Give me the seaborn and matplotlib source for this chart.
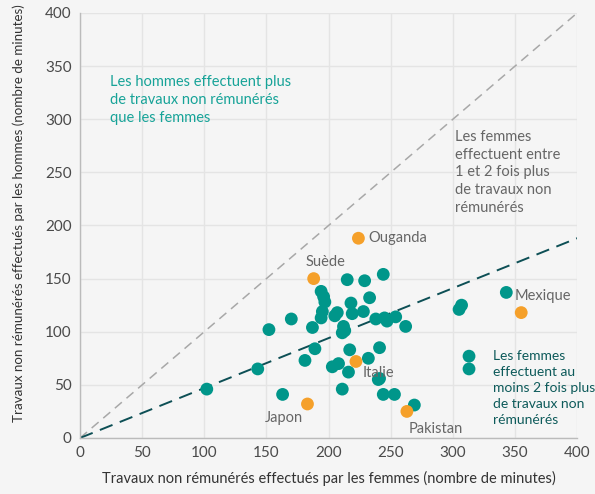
import matplotlib
matplotlib.use("Agg")
import matplotlib.pyplot as plt
import seaborn as sns
import pandas as pd

# Data: unpaid work, women (x) vs men (y), minutes per day
teal_x = [102, 143, 163, 152, 170, 187, 189, 181, 194, 196, 197, 195, 194, 205, 207,
          215, 229, 244, 233, 218, 219, 228, 238, 245, 247, 254, 262, 212, 211, 213,
          217, 241, 203, 208, 232, 216, 211, 240, 241, 244, 253, 269, 343, 307, 305,
          313, 313]
teal_y = [46, 65, 41, 102, 112, 104, 84, 73, 138, 133, 128, 119, 113, 115, 118,
          149, 148, 154, 132, 127, 117, 119, 112, 113, 110, 114, 105, 105, 99, 101,
          83, 85, 67, 70, 75, 62, 46, 55, 56, 41, 41, 31, 137, 125, 121,
          77, 65]

named_countries = ["Ouganda", "Suède", "Mexique", "Italie", "Japon", "Pakistan"]
named_x = [224, 188, 355, 222, 183, 263]
named_y = [188, 150, 118, 72, 32, 25]

line_equal_x = [0, 400]
line_equal_y = [0, 400]
line_double_x = [0, 400]
line_double_y = [0, 188]

teal = "#00968a"
orange = "#f5a02a"
bg = "#f5f5f5"

sns.set_theme(style="whitegrid")
plt.rcParams['font.family'] = ['Lato', 'DejaVu Sans']

fig = plt.figure(figsize=(5.95, 4.94), dpi=100, facecolor=bg)
ax = fig.add_axes([0.1345, 0.1134, 0.8355, 0.8603])
ax.set_facecolor(bg)

others = pd.DataFrame({"x": teal_x, "y": teal_y})
named = pd.DataFrame({"x": named_x, "y": named_y, "pays": named_countries})

sns.lineplot(x=line_equal_x, y=line_equal_y, ax=ax, color="#a8a8a8",
             linestyle=(0, (6, 4)), linewidth=1.1)
sns.lineplot(x=line_double_x, y=line_double_y, ax=ax, color="#0d4f55",
             linestyle=(0, (7, 4)), linewidth=1.4)

sns.scatterplot(data=others, x="x", y="y", ax=ax, color=teal, s=85,
                edgecolor="none", zorder=3)
sns.scatterplot(data=named, x="x", y="y", ax=ax, color=orange, s=85,
                edgecolor="none", zorder=3)

# country labels (offsets in points)
offsets = {"Ouganda": (7, 0, "left"),
           "Suède": (-6, 12, "left"),
           "Mexique": (-5, 12, "left"),
           "Italie": (5, -8, "left"),
           "Japon": (-3, -10, "right"),
           "Pakistan": (1, -13, "left")}
for name, xv, yv in zip(named_countries, named_x, named_y):
    dx, dy, ha = offsets[name]
    ax.annotate(name, (xv, yv), xytext=(dx, dy), textcoords="offset points",
                ha=ha, va="center", fontsize=10.5, color="#666666")

ax.text(24, 318, "Les hommes effectuent plus\nde travaux non rémunérés\nque les femmes",
        fontsize=10.5, color="#17a398", va="center", ha="left", linespacing=1.35)
ax.text(302, 250, "Les femmes\neffectuent entre\n1 et 2 fois plus\nde travaux non\nrémunérés",
        fontsize=10.5, color="#666666", va="center", ha="left", linespacing=1.35)
ax.text(332, 47, "Les femmes\neffectuent au\nmoins 2 fois plus\nde travaux non\nrémunérés",
        fontsize=10, color="#0d5a5a", va="center", ha="left", linespacing=1.4)

ax.set_xlim(0, 400)
ax.set_ylim(0, 400)
ax.set_xticks(range(0, 401, 50))
ax.set_yticks(range(0, 401, 50))
ax.grid(True, color="#e4e4e4", linewidth=1)
ax.tick_params(axis="both", labelsize=11, colors="#4a4a4a", length=0, pad=6)
for s in ["top", "right"]:
    ax.spines[s].set_visible(False)
for s in ["left", "bottom"]:
    ax.spines[s].set_color("#bbbbbb")
    ax.spines[s].set_linewidth(1)

ax.set_xlabel("Travaux non rémunérés effectués par les femmes (nombre de minutes)",
              fontsize=10.5, color="#333333", labelpad=8)
ax.set_ylabel("Travaux non rémunérés effectués par les hommes (nombre de minutes)",
              fontsize=9.6, color="#333333")
ax.yaxis.set_label_coords(-0.11, 0.53)

fig.savefig("out.png", dpi=100, facecolor=bg)
